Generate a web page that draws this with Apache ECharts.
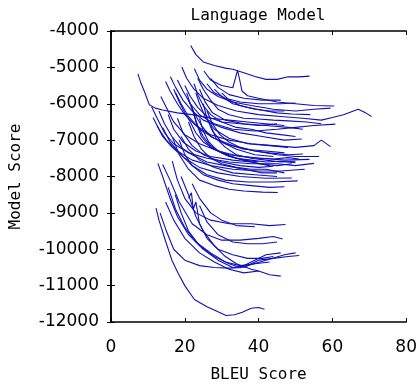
<!DOCTYPE html>
<html><head><meta charset="utf-8">
<script src="https://cdn.jsdelivr.net/npm/echarts@6/dist/echarts.min.js"></script>
<style>html,body{margin:0;padding:0;background:#fff}#c{width:420px;height:388px}</style>
</head><body><div id="c"></div>
<script>
const titleText = 'Language Model';
const xName = 'BLEU Score';
const yName = 'Model Score';
const xTicks = [0, 20, 40, 60, 80];
const yTicks = [-12000, -11000, -10000, -9000, -8000, -7000, -6000, -5000, -4000];

// upper cluster
const u01 = [[21.6,-4400],[23,-4650],[25,-4850],[28,-4950],[31,-5020],[33,-5050],[36,-5150],[39,-5250],[42,-5330],[45,-5330],[48,-5260],[51,-5260],[53.8,-5240]];
const u02 = [[25.2,-5100],[27,-5350],[30,-5500],[33,-5560],[34.3,-5080],[35,-5400],[35.5,-5650],[37,-5780],[40,-5850],[45,-5950],[50,-6000],[55,-6050],[60.5,-6060]];
const u03 = [[7.3,-5180],[8,-5400],[9,-5650],[10.4,-6030],[12,-6120],[14,-6170],[18,-6250],[22,-6300],[27,-6400],[32,-6450],[37,-6500],[42,-6550],[47,-6600]];
const u04 = [[14.8,-5390],[16,-5650],[18,-6000],[20,-6300],[23,-6600],[27,-6850],[32,-7000],[38,-7100],[44,-7150],[50,-7200],[55,-7150],[57,-7000],[59.5,-7180]];
const u05 = [[16.1,-5260],[17.5,-5550],[19.5,-5900],[22,-6200],[25,-6450],[30,-6650],[35,-6800],[41,-6900],[47,-7000],[51.7,-6970]];
const u06 = [[19.2,-4990],[20.5,-5300],[22.5,-5600],[25,-5850],[29,-6050],[34,-6200],[40,-6300],[46,-6350],[52,-6400],[57,-6450],[60,-6380],[63,-6300],[67,-6150],[69,-6250],[70.6,-6350]];
const u07 = [[22.6,-5040],[24,-5350],[26,-5600],[29,-5800],[33,-5950],[38,-6050],[44,-6150],[50,-6200],[55,-6150],[59.5,-6120]];
const u08 = [[17.5,-5700],[19,-6000],[21,-6350],[24,-6700],[28,-6950],[33,-7150],[39,-7300],[45,-7400],[50,-7450],[56.4,-7450]];
const u09 = [[13.5,-5800],[15,-6100],[17,-6500],[20,-6850],[24,-7100],[29,-7300],[35,-7450],[41,-7500],[47,-7550],[53.8,-7530]];
const u10 = [[11,-6080],[12.5,-6400],[14.5,-6800],[17,-7100],[21,-7350],[26,-7500],[32,-7600],[38,-7650],[45,-7650],[50,-7700],[55,-7640]];
const u11 = [[11.4,-6380],[13,-6700],[15,-7000],[18,-7300],[22,-7550],[27,-7700],[33,-7800],[40,-7850],[46,-7850],[52.5,-7800]];
const u12 = [[12.5,-6600],[14,-6900],[16.6,-7200],[20,-7500],[24,-7750],[29,-7900],[35,-8000],[42,-8050],[49,-8040]];
const u13 = [[14,-6650],[16,-7050],[19,-7400],[22,-7700],[26,-7950],[31,-8100],[37,-8150],[44,-8150],[50.6,-8120]];
const u14 = [[16.6,-6910],[18.5,-7400],[21,-7800],[24,-8100],[28,-8250],[32,-8350],[36,-8400],[41,-8430],[45.2,-8440]];
const u15 = [[18,-5350],[19.5,-5650],[21.5,-6000],[24,-6300],[28,-6550],[33,-6700],[39,-6750],[45,-6700],[50,-6650],[55,-6600],[60.8,-6560]];
const u16 = [[20,-5500],[21.5,-5800],[23.5,-6100],[26,-6350],[30,-6500],[35,-6550],[40,-6600],[45,-6550]];
const u17 = [[21,-5900],[22.5,-6250],[24.5,-6600],[27,-6900],[31,-7100],[36,-7250],[42,-7300],[47,-7350]];
const u18 = [[23,-5700],[24,-6000],[25.5,-6350],[28,-6700],[32,-6950],[37,-7100],[43,-7150],[48,-7200]];
const u19 = [[26,-5450],[28,-5700],[31,-5850],[35,-5950],[40,-6000],[46,-6000],[50,-5980]];
const u20 = [[15.5,-6300],[17,-6700],[19.5,-7050],[23,-7300],[27,-7450],[33,-7550],[38,-7600],[43,-7700]];
const u21 = [[18,-6400],[19.5,-6800],[22,-7150],[25,-7400],[30,-7600],[35,-7700],[40,-7750],[44,-7720]];
const u22 = [[22,-6100],[23,-6500],[24.5,-6900],[27,-7200],[31,-7400],[36,-7550],[40,-7600]];
const u23 = [[25,-6000],[26,-6400],[27.5,-6750],[30,-7050],[34,-7250],[39,-7400],[44,-7450]];
const u24 = [[27,-5300],[29,-5550],[32,-5750],[36,-5850],[41,-5900],[46,-5900]];
const u25 = [[24,-5600],[25.5,-5950],[27.5,-6250],[31,-6450],[36,-6550],[42,-6600],[48,-6650],[52,-6700]];
const u26 = [[19,-6900],[21,-7250],[24,-7550],[28,-7750],[33,-7900],[39,-7950],[45,-8000]];
const u27 = [[17,-5600],[18.5,-5950],[20,-6250],[21.5,-6500],[23,-6800],[25,-7050],[28,-7250],[32,-7400],[36,-7450],[40,-7500],[44,-7520],[48,-7480],[51,-7520]];
const u28 = [[20.5,-5700],[21.5,-6000],[22.5,-6300],[23.5,-6600],[25,-6900],[27,-7150],[30,-7350],[34,-7500],[38,-7550],[42,-7600],[46,-7580],[50,-7620]];
const u29 = [[23.5,-5300],[25,-5600],[27,-5900],[29,-6150],[32,-6300],[36,-6400],[40,-6420],[44,-6450],[48,-6470],[53,-6500],[57,-6550]];
const u30 = [[28,-5600],[30,-5800],[33,-6000],[37,-6100],[41,-6180],[45,-6250],[49,-6280],[54,-6300]];
const u31 = [[26,-6200],[27.5,-6550],[29.5,-6850],[32,-7050],[35,-7200],[39,-7300],[43,-7350],[48,-7400],[52,-7380]];
const u32 = [[21,-6500],[22.5,-6900],[24.5,-7250],[27,-7500],[30,-7650],[34,-7750],[38,-7800],[42,-7800],[47,-7900]];
const u33 = [[24,-6400],[25,-6750],[26.5,-7050],[29,-7300],[32,-7450],[36,-7550],[40,-7650],[45,-7700],[49,-7650]];
const u34 = [[22.5,-5450],[23.5,-5750],[25,-6050],[27,-6300],[30,-6500],[34,-6650],[38,-6700],[42,-6800],[46,-6850],[50,-6900]];
const u35 = [[30,-5700],[32,-5900],[35,-6050],[39,-6150],[43,-6200],[47,-6200]];
const u36 = [[18.5,-7000],[20,-7400],[22,-7700],[25,-7950],[29,-8100],[33,-8200],[38,-8250],[43,-8300],[47,-8280]];
const u37 = [[27,-6600],[28.5,-6950],[31,-7200],[34,-7400],[38,-7500],[42,-7550],[46,-7600],[50,-7580]];
const u38 = [[13,-6200],[14.5,-6550],[16.5,-6900],[19,-7200],[22,-7400],[26,-7600],[31,-7700],[36,-7800],[41,-7900],[45,-7900]];

// lower cluster
const l01 = [[12.2,-8870],[13,-9200],[14.8,-9780],[16.5,-10300],[18.2,-10660],[20,-11000],[22.6,-11380],[26,-11580],[29,-11720],[31.2,-11820],[33.5,-11800],[35.6,-11730],[38,-11620],[40,-11600],[41.6,-11650]];
const l02 = [[13.3,-9000],[15,-9500],[17,-10000],[20,-10300],[24,-10450],[28,-10500],[32,-10520],[36,-10500],[40,-10300],[44,-10250],[48,-10200],[51,-10170]];
const l03 = [[14.8,-8700],[17,-9200],[20,-9700],[24,-10100],[28,-10350],[32,-10550],[36,-10650],[40,-10600],[43,-10700],[46,-10740]];
const l04 = [[12.7,-7640],[14,-8000],[16,-8600],[18,-9100],[21,-9600],[25,-10000],[29,-10300],[33,-10500],[37,-10450],[42,-10300],[47,-10150],[50,-10100]];
const l05 = [[14,-7670],[16,-8100],[18.5,-8700],[22,-9300],[26,-9600],[30,-9750],[35,-9750],[40,-9700],[44,-9650],[46.5,-9720]];
const l06 = [[16.6,-7580],[18,-8100],[20,-8600],[23,-9000],[27,-9200],[32,-9300],[38,-9300],[43,-9350],[47.3,-9320]];
const l07 = [[21,-8600],[21.8,-8450],[22.3,-8900],[23,-8700],[24,-9300],[26,-9700],[29,-10000],[33,-10150],[37,-10250],[41,-10250],[44,-10200]];
const l08 = [[19,-8000],[21,-8500],[23,-9100],[25,-9500],[28,-9900],[31,-10200],[34,-10400],[38,-10550],[40,-10600]];
const l09 = [[22,-8200],[24,-8600],[27,-9000],[30,-9200],[34,-9350],[39,-9380]];
const l10 = [[15.5,-8300],[17.5,-8900],[20,-9400],[23,-9800],[27,-10100],[31,-10350],[35,-10450],[39,-10400],[43,-10350]];
const l11 = [[17.4,-8500],[19,-9000],[21,-9500],[24,-9900],[28,-10200],[32,-10400],[35,-10500],[38,-10350],[42,-10150],[46,-10100]];
const l12 = [[24,-8800],[26,-9250],[29,-9600],[33,-9800],[37,-9850],[41,-9850],[45,-9800]];

const allLines = [u01,u02,u03,u04,u05,u06,u07,u08,u09,u10,u11,u12,u13,u14,u15,u16,u17,u18,u19,u20,
                  u21,u22,u23,u24,u25,u26,u27,u28,u29,u30,u31,u32,u33,u34,u35,u36,u37,u38,
                  l01,l02,l03,l04,l05,l06,l07,l08,l09,l10,l11,l12];

const chart = echarts.init(document.getElementById('c'), null, {renderer:'canvas'});
const frame = {show:true, lineStyle:{color:'#000', width:1.5}};
const labelFont = {color:'#000', fontFamily:'DejaVu Sans', fontSize:17};
const nameFont = {color:'#000', fontFamily:'DejaVu Sans Mono', fontSize:16};
const xMin = xTicks[0], xMax = xTicks[xTicks.length-1], xStep = xTicks[1]-xTicks[0];
const yMin = yTicks[0], yMax = yTicks[yTicks.length-1], yStep = yTicks[1]-yTicks[0];
const plain = function(v){ return String(v); };
chart.setOption({
  animation:false,
  backgroundColor:'#fff',
  title:{text:titleText, left:253, top:3, textAlign:'center',
    textStyle:{fontFamily:'DejaVu Sans Mono', fontSize:16, fontWeight:'normal', color:'#000'}},
  grid:{left:103, right:9, top:31, bottom:58},
  xAxis:[
    {type:'value', position:'bottom', min:xMin, max:xMax, interval:xStep,
     axisLine:frame, axisTick:{show:true, inside:true, length:4, lineStyle:{color:'#000'}},
     axisLabel:Object.assign({margin:17, formatter:plain}, labelFont), splitLine:{show:false},
     name:xName, nameLocation:'middle', nameGap:45, nameTextStyle:nameFont},
    {type:'value', position:'top', min:xMin, max:xMax, interval:xStep,
     axisLine:frame, axisTick:{show:true, inside:true, length:4, lineStyle:{color:'#000'}},
     axisLabel:{show:false}, splitLine:{show:false}}
  ],
  yAxis:[
    {type:'value', position:'left', min:yMin, max:yMax, interval:yStep,
     axisLine:frame, axisTick:{show:true, inside:true, length:4, lineStyle:{color:'#000'}},
     axisLabel:Object.assign({margin:12, formatter:plain}, labelFont), splitLine:{show:false},
     name:yName, nameLocation:'middle', nameGap:87, nameRotate:90, nameTextStyle:nameFont},
    {type:'value', position:'right', min:yMin, max:yMax, interval:yStep,
     axisLine:frame, axisTick:{show:true, inside:true, length:4, lineStyle:{color:'#000'}},
     axisLabel:{show:false}, splitLine:{show:false}}
  ],
  series: allLines.map(function(d){
    return {type:'line', xAxisIndex:0, yAxisIndex:0, data:d, symbol:'none',
      lineStyle:{color:'#1010b8', width:1.1}, silent:true};
  })
});
</script></body></html>
